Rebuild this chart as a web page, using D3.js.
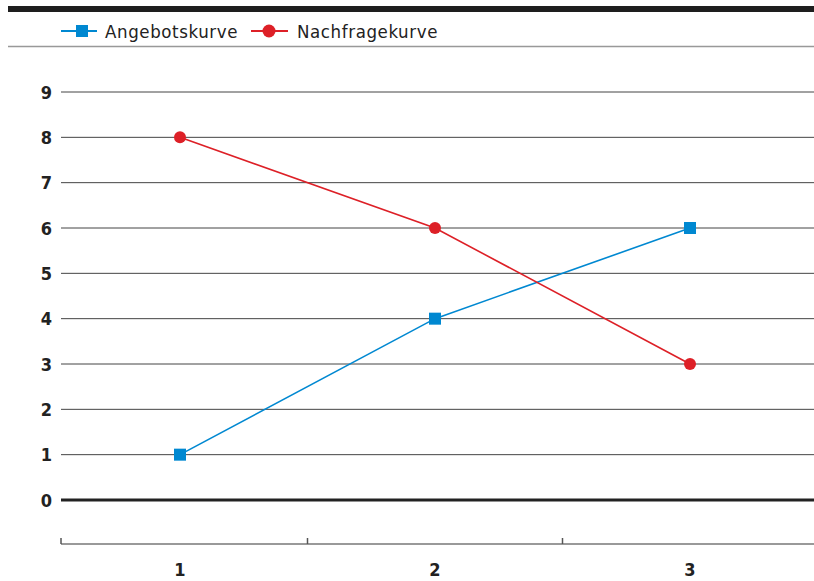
<html><head>
  <script src="https://d3js.org/d3.v7.min.js"></script>
  <style>
    body { margin: 0; background: #fff; }
    text { font-family: 'DejaVu Sans Condensed', 'DejaVu Sans', sans-serif; fill: #222; }
  </style>
</head>
<body>
<script>
  // chart data
  const categories = [1, 2, 3]
  const angebot = [1, 4, 6]
  const nachfrage = [8, 6, 3]
  const yTicks = [0, 1, 2, 3, 4, 5, 6, 7, 8, 9]

  const width = 814, height = 581
  const left = 61, right = 814

  const svg = d3.select("body").append("svg")
      .attr("width", width)
      .attr("height", height)

  const x = d3.scalePoint().domain(categories).range([180, 690])
  const y = d3.scaleLinear().domain([0, 9]).range([500, 92])

  // top rules
  svg.append("rect").attr("x", 8).attr("y", 6).attr("width", width - 8).attr("height", 6).attr("fill", "#1e1e1e")
  svg.append("line").attr("x1", 8).attr("x2", width).attr("y1", 46.5).attr("y2", 46.5)
      .attr("stroke", "#999").attr("stroke-width", 1.5)

  // legend
  const legend = svg.append("g")
  legend.append("line").attr("x1", 61).attr("x2", 97).attr("y1", 31).attr("y2", 31)
      .attr("stroke", "#0088d1").attr("stroke-width", 2)
  legend.append("rect").attr("x", 76).attr("y", 25).attr("width", 12).attr("height", 12).attr("fill", "#0088d1")
  legend.append("text").attr("x", 105).attr("y", 38)
      .style("font-size", "18.5px").style("letter-spacing", "0.6px").text("Angebotskurve")
  legend.append("line").attr("x1", 251).attr("x2", 288).attr("y1", 31).attr("y2", 31)
      .attr("stroke", "#dd2027").attr("stroke-width", 2)
  legend.append("circle").attr("cx", 269).attr("cy", 31).attr("r", 6.5).attr("fill", "#dd2027")
  legend.append("text").attr("x", 297).attr("y", 38)
      .style("font-size", "18.5px").style("letter-spacing", "0.6px").text("Nachfragekurve")

  // grid lines
  svg.selectAll(".grid").data(yTicks).join("line")
      .attr("class", "grid")
      .attr("x1", left).attr("x2", right)
      .attr("y1", d => y(d)).attr("y2", d => y(d))
      .attr("stroke", d => d == 0 ? "#222" : "#444")
      .attr("stroke-width", d => d == 0 ? 3 : 1)

  svg.selectAll(".ylab").data(yTicks).join("text")
      .attr("class", "ylab")
      .attr("x", 52).attr("y", d => y(d) + 6.5)
      .attr("text-anchor", "end")
      .style("font-size", "18px").style("font-weight", "bold")
      .text(d => d)

  // x axis
  const axisY = 544
  svg.append("line").attr("x1", left).attr("x2", right).attr("y1", axisY).attr("y2", axisY)
      .attr("stroke", "#777").attr("stroke-width", 1.5)
  svg.selectAll(".xtick").data(categories).join("line")
      .attr("class", "xtick")
      .attr("x1", d => Math.max(left, x(d) - x.step() / 2))
      .attr("x2", d => Math.max(left, x(d) - x.step() / 2))
      .attr("y1", axisY - 6).attr("y2", axisY)
      .attr("stroke", "#555").attr("stroke-width", 1.5)
  svg.selectAll(".xlab").data(categories).join("text")
      .attr("class", "xlab")
      .attr("x", d => x(d)).attr("y", 576)
      .attr("text-anchor", "middle")
      .style("font-size", "18px").style("font-weight", "bold")
      .text(d => d)

  // lines
  const line = d3.line().x((d, i) => x(categories[i])).y(d => y(d))

  svg.append("path").datum(angebot).attr("d", line)
      .attr("fill", "none").attr("stroke", "#0088d1").attr("stroke-width", 1.6)
  svg.append("path").datum(nachfrage).attr("d", line)
      .attr("fill", "none").attr("stroke", "#dd2027").attr("stroke-width", 1.6)

  svg.selectAll(".sq").data(angebot).join("rect")
      .attr("class", "sq")
      .attr("x", (d, i) => x(categories[i]) - 6)
      .attr("y", d => y(d) - 6)
      .attr("width", 12).attr("height", 12)
      .attr("fill", "#0088d1")
  svg.selectAll(".dot").data(nachfrage).join("circle")
      .attr("class", "dot")
      .attr("cx", (d, i) => x(categories[i]))
      .attr("cy", d => y(d))
      .attr("r", 6)
      .attr("fill", "#dd2027")
</script>
</body></html>
